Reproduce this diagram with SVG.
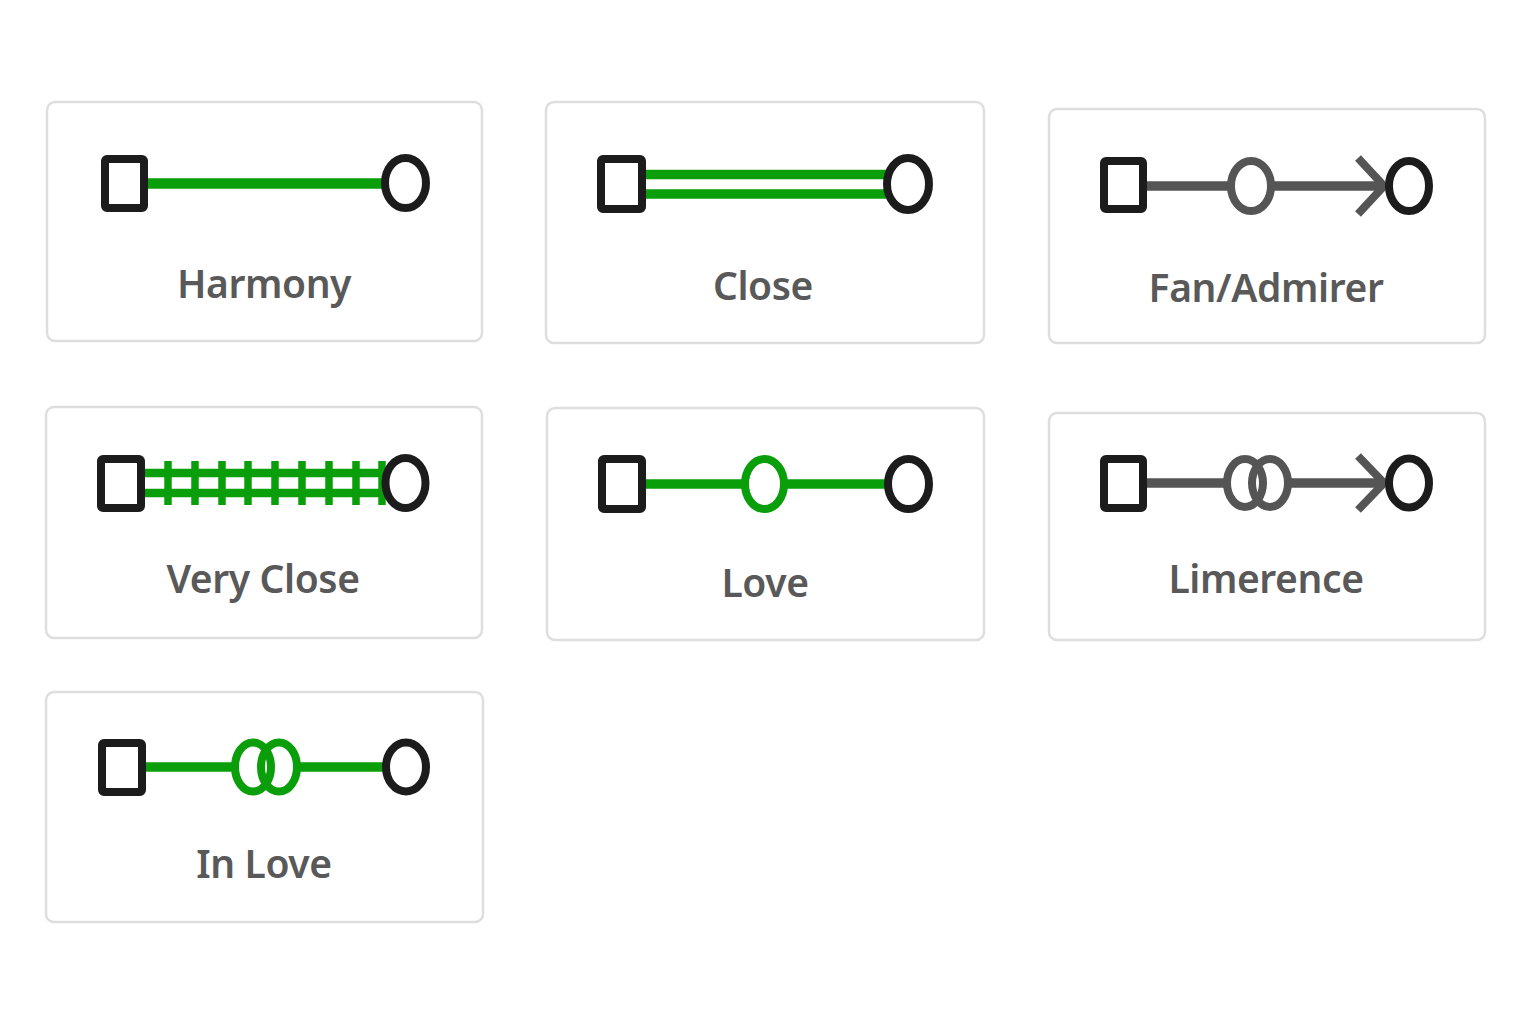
<svg xmlns="http://www.w3.org/2000/svg" width="1536" height="1024" viewBox="0 0 1536 1024">
<style>
.card{fill:#ffffff;stroke:#dedede;stroke-width:2.5}
.person{fill:#ffffff;stroke:#1c1c1c;stroke-width:8}
.g{stroke:#0a9e0a;fill:none}
.gr{stroke:#555555;fill:none}
.ring-g{fill:none;stroke:#0a9e0a;stroke-width:8}
.ring-gr{fill:none;stroke:#555555;stroke-width:8}
.label{font-family:"Noto Sans","Open Sans",sans-serif;font-weight:600;font-size:39px;letter-spacing:-0.4px;fill:#595959;text-anchor:middle}
</style>
<rect width="1536" height="1024" fill="#ffffff"/>

<g id="card-harmony">
<rect class="card" x="47" y="102" width="435" height="239" rx="8"/>
<text class="label" x="264" y="298">Harmony</text>
</g>
<g id="card-close">
<rect class="card" x="546" y="102" width="438" height="241" rx="8"/>
<text class="label" x="763" y="300">Close</text>
</g>
<g id="card-fan">
<rect class="card" x="1049" y="109" width="436" height="234" rx="8"/>
<text class="label" x="1266" y="302">Fan/Admirer</text>
</g>
<g id="card-veryclose">
<rect class="card" x="46" y="407" width="436" height="231" rx="8"/>
<text class="label" x="263" y="593">Very Close</text>
</g>
<g id="card-love">
<rect class="card" x="547" y="408" width="437" height="232" rx="8"/>
<text class="label" x="765" y="597">Love</text>
</g>
<g id="card-limerence">
<rect class="card" x="1049" y="413" width="436" height="227" rx="8"/>
<text class="label" x="1266" y="593">Limerence</text>
</g>
<g id="card-inlove">
<rect class="card" x="46" y="692" width="437" height="230" rx="8"/>
<text class="label" x="264" y="878">In Love</text>
</g>

<g id="connectors">
<!-- Harmony -->
<line class="g" x1="146" y1="183.5" x2="384" y2="183.5" stroke-width="10.5"/>
<!-- Close -->
<line class="g" x1="644" y1="174.5" x2="886" y2="174.5" stroke-width="9.5"/>
<line class="g" x1="644" y1="194" x2="886" y2="194" stroke-width="9.5"/>
<!-- Fan -->
<line class="gr" x1="1145" y1="186" x2="1384" y2="186" stroke-width="9.5"/>
<polyline class="gr" points="1358,158 1384,186 1358,214" stroke-width="8"/>
<!-- Very Close -->
<line class="g" x1="143" y1="473" x2="385" y2="473" stroke-width="8.5"/>
<line class="g" x1="143" y1="493" x2="385" y2="493" stroke-width="8.5"/>
<g class="g" stroke-width="7.5">
<line x1="168" y1="461" x2="168" y2="505"/>
<line x1="195" y1="461" x2="195" y2="505"/>
<line x1="222" y1="461" x2="222" y2="505"/>
<line x1="248" y1="461" x2="248" y2="505"/>
<line x1="275" y1="461" x2="275" y2="505"/>
<line x1="302" y1="461" x2="302" y2="505"/>
<line x1="329" y1="461" x2="329" y2="505"/>
<line x1="356" y1="461" x2="356" y2="505"/>
<line x1="382" y1="461" x2="382" y2="505"/>
</g>
<!-- Love -->
<line class="g" x1="644" y1="484" x2="886" y2="484" stroke-width="9.5"/>
<!-- Limerence -->
<line class="gr" x1="1145" y1="483" x2="1225" y2="483" stroke-width="9.5"/>
<line class="gr" x1="1290" y1="483" x2="1384" y2="483" stroke-width="9.5"/>
<polyline class="gr" points="1358,456 1384,483 1358,510" stroke-width="8"/>
<!-- In Love -->
<line class="g" x1="144" y1="767" x2="233" y2="767" stroke-width="9.5"/>
<line class="g" x1="300" y1="767" x2="384" y2="767" stroke-width="9.5"/>
</g>

<g id="symbols">
<!-- Harmony -->
<rect class="person" x="105" y="159" width="39" height="49" rx="2"/>
<ellipse class="person" cx="405.5" cy="183" rx="20.5" ry="25"/>
<!-- Close -->
<rect class="person" x="601" y="159" width="41" height="50" rx="2"/>
<ellipse class="person" cx="908" cy="184" rx="21" ry="26"/>
<!-- Fan -->
<rect class="person" x="1104" y="161" width="39" height="48" rx="2"/>
<ellipse cx="1251" cy="186" rx="20" ry="25" fill="#ffffff" stroke="#555555" stroke-width="8"/>
<ellipse class="person" cx="1409" cy="186" rx="20" ry="25"/>
<!-- Very Close -->
<rect class="person" x="101" y="459" width="40" height="49" rx="2"/>
<ellipse class="person" cx="405.5" cy="483" rx="20" ry="25"/>
<!-- Love -->
<rect class="person" x="602" y="459" width="40" height="50" rx="2"/>
<ellipse cx="764.5" cy="484" rx="19.5" ry="25" fill="#ffffff" stroke="#0a9e0a" stroke-width="8"/>
<ellipse class="person" cx="908.5" cy="484" rx="20.5" ry="25"/>
<!-- Limerence -->
<rect class="person" x="1104" y="459" width="39" height="49" rx="2"/>
<ellipse class="ring-gr" cx="1245" cy="483" rx="18" ry="24"/>
<ellipse class="ring-gr" cx="1270" cy="483" rx="18" ry="24"/>
<ellipse class="person" cx="1409" cy="483" rx="20" ry="24.5"/>
<!-- In Love -->
<rect class="person" x="102" y="743" width="40" height="49" rx="2"/>
<ellipse class="ring-g" cx="253" cy="767" rx="18" ry="24.5"/>
<ellipse class="ring-g" cx="279" cy="767" rx="18" ry="24.5"/>
<ellipse class="person" cx="406" cy="767" rx="20" ry="24.5"/>
</g>
</svg>
